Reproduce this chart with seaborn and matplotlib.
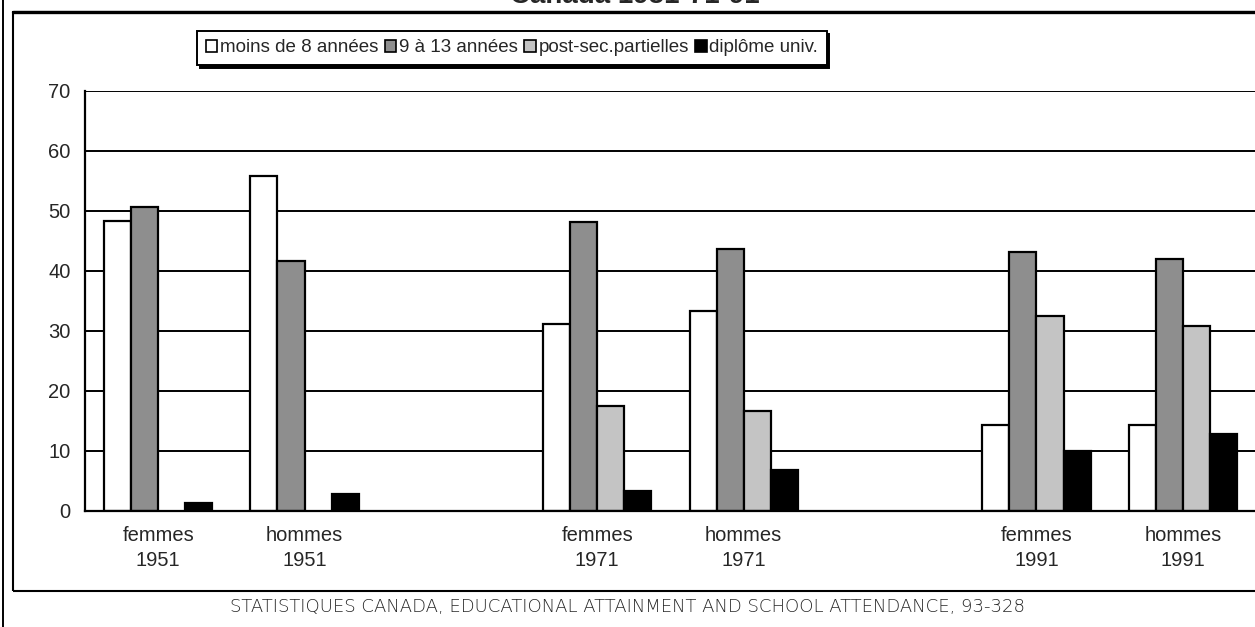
import matplotlib
matplotlib.use("Agg")
import matplotlib.pyplot as plt
from matplotlib.patches import Rectangle, Patch
from matplotlib.lines import Line2D
import seaborn as sns
import numpy as np
import pandas as pd

# data
groupes = ["femmes\n1951", "hommes\n1951", "femmes\n1971", "hommes\n1971", "femmes\n1991", "hommes\n1991"]
niveaux = ["moins de 8 années", "9 à 13 années", "post-sec.partielles", "diplôme univ."]
moins_8 = [48.3, 55.8, 31.2, 33.3, 14.3, 14.3]
neuf_13 = [50.7, 41.6, 48.2, 43.6, 43.2, 42.0]
post_sec = [np.nan, np.nan, 17.5, 16.7, 32.5, 30.9]
diplome = [1.3, 2.9, 3.3, 6.9, 10.0, 12.8]
couleurs = ["#ffffff", "#8e8e8e", "#c4c4c4", "#000000"]

rows = []
for niv, vals in zip(niveaux, [moins_8, neuf_13, post_sec, diplome]):
    for g, v in zip(groupes, vals):
        rows.append({"groupe": g, "niveau": niv, "pct": v})
df = pd.DataFrame(rows)

# empty slots between the census years
ordre = [groupes[0], groupes[1], "_vide1", groupes[2], groupes[3], "_vide2", groupes[4], groupes[5]]
etiquettes = [o if not o.startswith("_") else "" for o in ordre]

sns.set_style("white")
plt.rcParams["font.family"] = ["Liberation Sans", "DejaVu Sans"]

W, H = 1255, 627
fig = plt.figure(figsize=(W / 100, H / 100), dpi=100)
ax = fig.add_axes([85 / W, 1 - 511 / H, (1256 - 85) / W, (511 - 91) / H])

sns.barplot(data=df, x="groupe", y="pct", hue="niveau", order=ordre, hue_order=niveaux,
            palette=couleurs, saturation=1, width=0.74, edgecolor="black", linewidth=1.6,
            errorbar=None, legend=False, ax=ax)

ax.set_xlim(-0.5, 7.5)
ax.set_ylim(0, 70)
ax.set_yticks(range(0, 71, 10))
ax.yaxis.grid(True, color="black", linewidth=1.4)
ax.set_axisbelow(True)
ax.set_xlabel("")
ax.set_ylabel("")

# tick marks on category boundaries, labels at category centres
ax.set_xticks(np.arange(0.5, 7, 1))
ax.set_xticklabels([""] * 7)
ax.set_xticks(np.arange(8), minor=True)
ax.set_xticklabels(etiquettes, minor=True, fontsize=14.5, linespacing=1.35)
ax.tick_params(axis="x", which="major", direction="inout", length=8, width=1.4, color="black")
ax.tick_params(axis="x", which="minor", length=0, pad=11)
ax.tick_params(axis="y", direction="inout", length=9, width=1.4, color="black", labelsize=14.5, pad=6)

for s in ["top", "right"]:
    ax.spines[s].set_visible(False)
for s in ["left", "bottom"]:
    ax.spines[s].set_color("black")
    ax.spines[s].set_linewidth(1.6)

handles = [Patch(facecolor=c, edgecolor="black", linewidth=1.2) for c in couleurs]
leg = fig.legend(handles, niveaux, loc="center", bbox_to_anchor=(512 / W, 1 - 48 / H),
                 ncol=4, fontsize=13.5, frameon=True, fancybox=False, edgecolor="black",
                 handlelength=0.6, handleheight=0.6, handletextpad=0.15, columnspacing=0.35,
                 borderpad=0.45, borderaxespad=0, shadow={"color": "black", "alpha": 1})
leg.get_frame().set_linewidth(1.4)

# title, cut at the top as in the original
fig.text(635 / W, 1 - 3 / H, "Canada 1951-71-91", ha="center", va="baseline",
         fontsize=20, fontweight="bold")

# source line
fig.text(628 / W, 1 - 607 / H,
         "STATISTIQUES CANADA, EDUCATIONAL ATTAINMENT AND SCHOOL ATTENDANCE, 93-328",
         ha="center", va="center", fontsize=13, family=["DejaVu Sans"], fontweight="light")

# frame lines
fig.add_artist(Line2D([3 / W, 3 / W], [0, 1], transform=fig.transFigure, color="black", lw=1.4))
fig.add_artist(Rectangle((13 / W, 1 - 591 / H), 1.0, (591 - 12) / H, transform=fig.transFigure,
                         fill=False, edgecolor="black", lw=1.5))
fig.add_artist(Line2D([13 / W, 1], [1 - 12 / H, 1 - 12 / H], transform=fig.transFigure,
                      color="black", lw=2.4))

fig.savefig("out.png", dpi=100)
